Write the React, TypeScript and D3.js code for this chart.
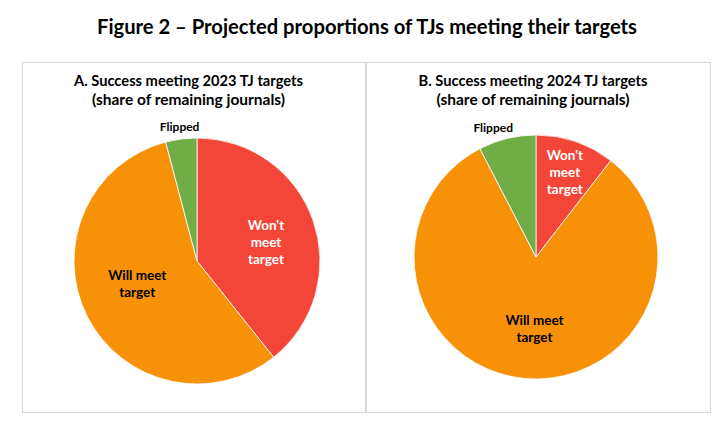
import * as d3 from 'd3';

// chart data
const categories = ["Won't meet target", 'Will meet target', 'Flipped'];
const share2023 = [39.3, 56.6, 4.1];
const share2024 = [10.5, 81.9, 7.6];
const panelTitles = [
    ['A. Success meeting 2023 TJ targets', '(share of remaining journals)'],
    ['B. Success meeting 2024 TJ targets', '(share of remaining journals)'],
];
const figureTitle = 'Figure 2 \u2013 Projected proportions of TJs meeting their targets';

const colors = ['#f44638', '#f79108', '#70ad47'];
const labelColors = ['#ffffff', '#000000', '#000000'];

const W = 727;
const H = 429;
const font = 'Lato, "Open Sans", sans-serif';

// layout of each panel
const panels = [
    {
        values: share2023, titles: panelTitles[0],
        box: [22, 62, 343, 350], titleX: 188.5,
        cx: 197, cy: 261, r: 123,
        labelR: [0.58, 0.52, 1.1], labelNudge: [0.08, 0.1, 0],
    },
    {
        values: share2024, titles: panelTitles[1],
        box: [366, 62, 344, 350], titleX: 533,
        cx: 536, cy: 257, r: 122,
        labelR: [0.73, 0.59, 1.12], labelNudge: [0, -0.07, -0.08],
    },
];

const PiePanel = ({ p }: { p: any }) => {
    const pie = d3.pie<number>().sort(null).value((d) => d);
    const arcs = pie(p.values);
    const arc = d3.arc<d3.PieArcDatum<number>>().innerRadius(0).outerRadius(p.r);
    const [bx, by, bw, bh] = p.box;

    return (
        <g>
            <rect x={bx + 0.5} y={by + 0.5} width={bw} height={bh} fill="#fff" stroke="#d9d9d9" strokeWidth={1.2} />
            <text x={p.titleX} y={86} textAnchor="middle" fontFamily={font} fontWeight={700} fontSize={15.5} fill="#000" textLength={229} lengthAdjust="spacingAndGlyphs">{p.titles[0]}</text>
            <text x={p.titleX} y={105} textAnchor="middle" fontFamily={font} fontWeight={700} fontSize={15.5} fill="#000" textLength={193} lengthAdjust="spacingAndGlyphs">{p.titles[1]}</text>
            <g transform={`translate(${p.cx},${p.cy})`}>
                {arcs.map((a, i) => (
                    <path key={i} d={arc(a) ?? ''} fill={colors[i]} stroke="#fff" strokeWidth={0.8} />
                ))}
                {arcs.map((a, i) => {
                    const mid = (a.startAngle + a.endAngle) / 2 + p.labelNudge[i];
                    const rr = p.r * p.labelR[i];
                    const x = Math.sin(mid) * rr;
                    const y = -Math.cos(mid) * rr;
                    const words = i === 0 ? ["Won't", 'meet', 'target'] : i === 1 ? ['Will meet', 'target'] : ['Flipped'];
                    const lh = 17;
                    const y0 = y - ((words.length - 1) * lh) / 2 + 4.5;
                    return (
                        <text key={'l' + i} textAnchor="middle" fontFamily={font} fontWeight={700} fontSize={i === 2 ? 12 : 13.5} fill={labelColors[i]}>
                            {words.map((w, j) => (
                                <tspan key={j} x={x} y={y0 + j * lh}>{w}</tspan>
                            ))}
                        </text>
                    );
                })}
            </g>
        </g>
    );
};

const App = () => {
    return (
        <svg width={W} height={H} style={{ position: 'absolute', left: 0, top: 0, background: '#fff' }}>
            <rect x={0} y={0} width={W} height={H} fill="#fff" />
            <text x={367} y={34} textAnchor="middle" fontFamily={font} fontWeight={700} fontSize={20} fill="#000" textLength={540} lengthAdjust="spacingAndGlyphs">{figureTitle}</text>
            {panels.map((p, i) => <PiePanel key={i} p={p} />)}
        </svg>
    );
};

export default App;
